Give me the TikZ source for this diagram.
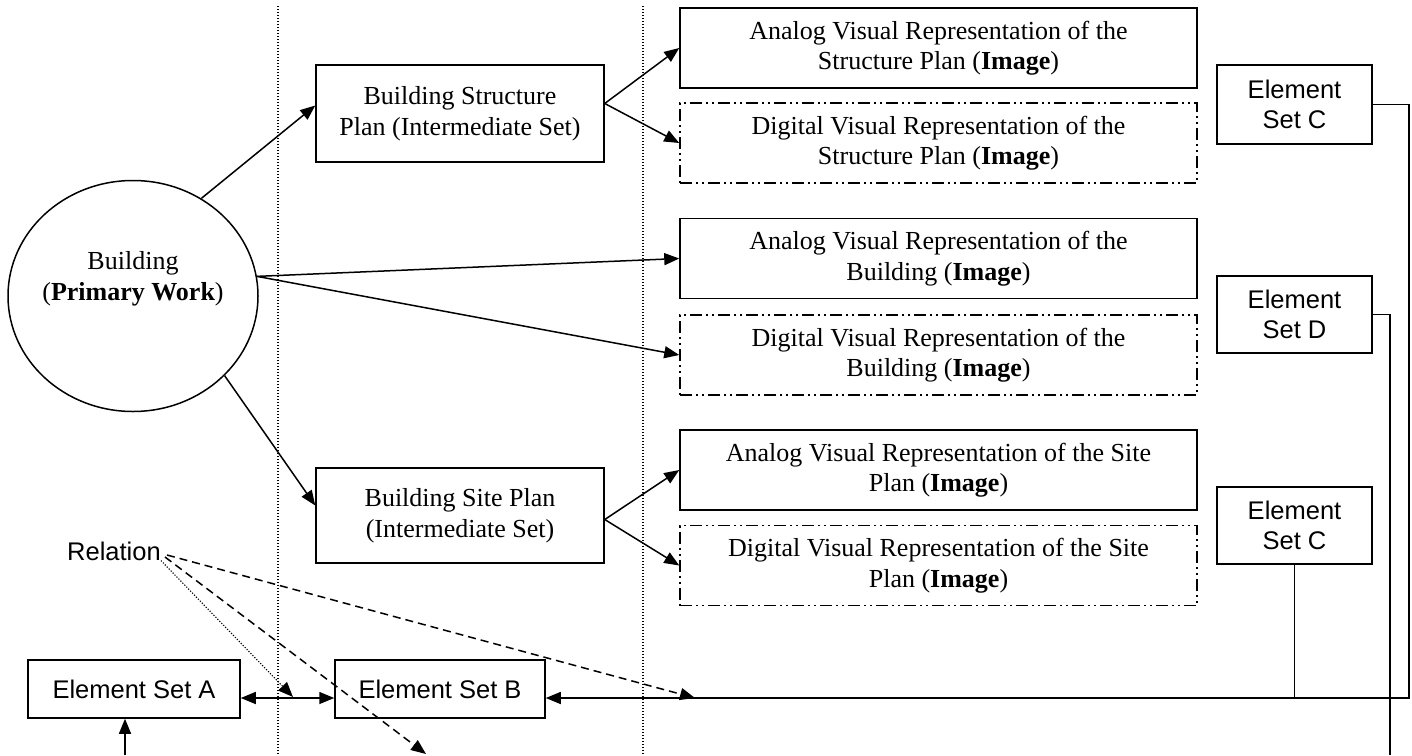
\documentclass[tikz,border=0pt]{standalone}
\usepackage{fontspec}
\setmainfont{Liberation Serif}
\setsansfont{Liberation Sans}
\usetikzlibrary{arrows.meta,shapes.geometric,calc}
\newcommand\dgserif{\rmfamily\fontsize{26pt}{30.5pt}\selectfont}
\newcommand\dgsans{\sffamily\fontsize{25.5pt}{30pt}\selectfont}
\begin{document}
\begin{tikzpicture}[x=1pt,y=-1pt,
  ln/.style={line width=1.5pt},
  arr/.style={ln,-{Triangle[length=15pt,width=12pt]}},
  darr/.style={ln,{Triangle[length=15pt,width=12pt]}-{Triangle[length=15pt,width=12pt]}},
  sbox/.style={draw,line width=1.5pt,align=center,inner sep=0pt,font=\dgserif},
  abox/.style={sbox,minimum width=517pt,minimum height=80pt},
  dbox/.style={abox,dash pattern=on 12pt off 4pt on 2pt off 4pt on 2pt off 4pt},
  ebox/.style={draw,line width=1.5pt,align=center,inner sep=0pt,font=\dgsans},
  sepline/.style={line width=1.3pt,dash pattern=on 1.3pt off 1.7pt},
  reldash/.style={line width=1.5pt,dash pattern=on 8pt off 5pt,-{Triangle[length=15pt,width=12pt]}},
  reldot/.style={line width=1.1pt,dash pattern=on 1.2pt off 1.6pt,-{Triangle[length=15pt,width=12pt]}},
]
\useasboundingbox (0,0) rectangle (1412,755);

% separators
\draw[sepline] (278,6) -- (278,755);
\draw[sepline] (643,6) -- (643,755);

% primary work
\node[ellipse,draw,line width=1.5pt,minimum width=250pt,minimum height=231pt,inner sep=0pt,
  label={[align=center,font=\dgserif,yshift=17pt]center:Building\\(\textbf{Primary Work})}] (bld) at (133,296) {};

% intermediate sets
\node[sbox,minimum width=288pt,minimum height=97pt] (bsp) at (460,113.5) {Building Structure\\Plan (Intermediate Set)};
\node[sbox,minimum width=288pt,minimum height=95pt] (bsite) at (460,515.5) {Building Site Plan\\(Intermediate Set)};

% images
\node[abox] (as) at (938.5,48) {Analog Visual Representation of the\\Structure Plan (\textbf{Image})};
\node[dbox] (ds) at (938.5,143) {Digital Visual Representation of the\\Structure Plan (\textbf{Image})};
\node[abox] (ab) at (938.5,258.5) {Analog Visual Representation of the\\Building (\textbf{Image})};
\node[dbox] (db) at (938.5,355) {Digital Visual Representation of the\\Building (\textbf{Image})};
\node[abox] (asite) at (938.5,470) {Analog Visual Representation of the Site\\Plan (\textbf{Image})};
\node[dbox] (dsite) at (938.5,565.5) {Digital Visual Representation of the Site\\Plan (\textbf{Image})};

% element sets
\node[ebox,minimum width=155pt,minimum height=79pt] (ec1) at (1294.5,104.5) {Element\\Set C};
\node[ebox,minimum width=155pt,minimum height=77pt] (ed) at (1294.5,314.5) {Element\\Set D};
\node[ebox,minimum width=155pt,minimum height=77pt] (ec2) at (1294.5,525.5) {Element\\Set C};
\node[ebox,minimum width=212pt,minimum height=58pt] (ea) at (134,689) {Element Set A};
\node[ebox,minimum width=210pt,minimum height=58pt] (eb) at (440,689) {Element Set B};
\node[inner sep=0pt,font=\dgsans] (rel) at (114,551) {Relation};

% free ends
\coordinate (cR) at (1409,698);
\coordinate (dEnd) at (1390,755);
\coordinate (aStart) at (125,755);
\coordinate (r1) at (293,697);
\coordinate (r2) at (426,754);
\coordinate (r3) at (695,698);

% arrows from primary work
\draw[arr] (bld.55) -- ([yshift=8pt]bsp.west);
\draw[arr] (bld.9) -- (ab.west);
\draw[arr] (bld.9) -- (db.west);
\draw[arr] (bld.-41) -- ([yshift=10pt]bsite.west);

\draw[arr] ([yshift=10pt]bsp.east) -- (as.west);
\draw[arr] ([yshift=10pt]bsp.east) -- (ds.west);
\draw[arr] ([yshift=-4pt]bsite.east) -- (asite.west);
\draw[arr] ([yshift=-4pt]bsite.east) -- (dsite.west);

% element set connections
\draw[arr] (ec1.east) -| (cR) -- ([yshift=-9pt]eb.east);
\draw[ln] (ec2.south) -- (ec2.south |- cR);
\draw[ln] (ed.east) -| (dEnd);
\draw[darr] ([yshift=-9pt]ea.east) -- ([yshift=-9pt]eb.west);
\draw[arr] (aStart) -- (aStart |- ea.south);

% relation pointers
\draw[reldot] (rel.south east) -- (r1);
\draw[reldash] ([shift={(4pt,-6pt)}]rel.east) -- (r2);
\draw[reldash] ([shift={(6pt,-4pt)}]rel.east) -- (r3);
\end{tikzpicture}
\end{document}
